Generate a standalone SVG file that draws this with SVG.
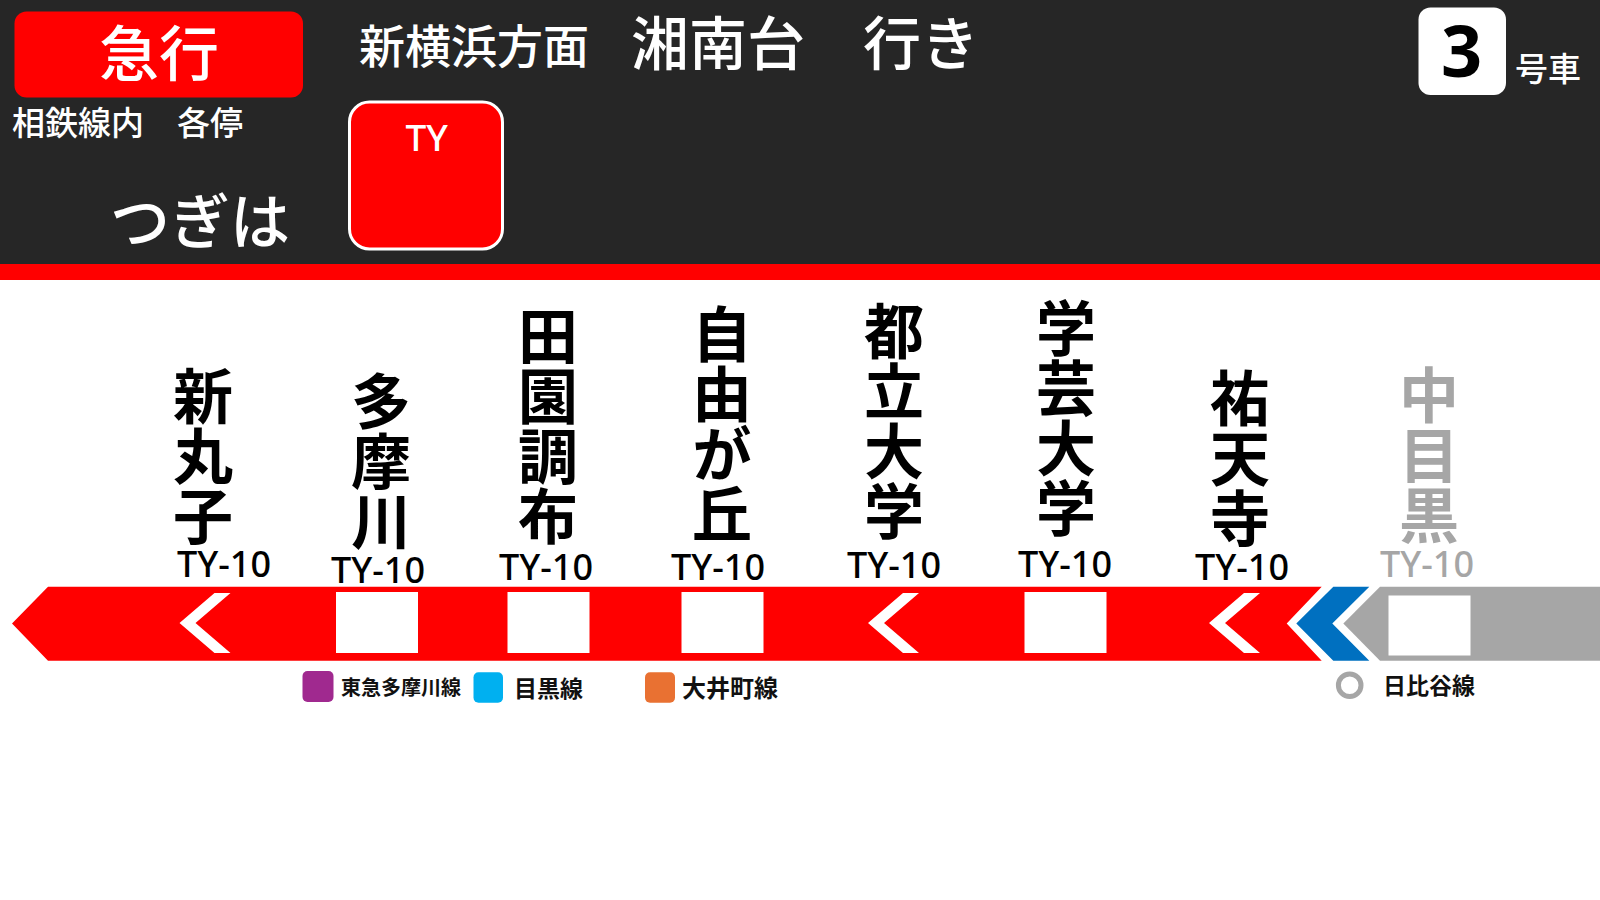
<svg xmlns="http://www.w3.org/2000/svg" xmlns:xlink="http://www.w3.org/1999/xlink" width="1600" height="900" viewBox="0 0 1600 900">
<style>
.jp{font-family:"Noto Sans CJK JP","Noto Sans",sans-serif}
.hd{fill:#ffffff;font-weight:500}
.st{font-family:"Noto Sans CJK JP","Noto Sans",sans-serif;font-size:60px;font-weight:700;fill:#000000;writing-mode:vertical-rl;text-anchor:start}
.code{font-family:"Noto Sans","Noto Sans CJK JP",sans-serif;font-size:36px;font-weight:500;fill:#000000;text-anchor:middle}
.gray{fill:#A6A6A6}
.stop{fill:#ffffff}
.chev{fill:#ffffff}
.lg{font-family:"Noto Sans CJK JP","Noto Sans",sans-serif;font-weight:700;fill:#111111}
</style>
<defs>
<polygon id="chevron" points="35,593 51,593 16,623 51,653 35,653 0,623"/>
</defs>
<rect x="0" y="0" width="1600" height="900" fill="#ffffff"/>
<g id="header">
<rect x="0" y="0" width="1600" height="264" fill="#262626"/>
<rect x="0" y="264" width="1600" height="16" fill="#FF0000"/>
</g>
<g id="type-badge">
<rect x="14.5" y="11.5" width="288.5" height="86" rx="12" fill="#FF0000"/>
<text x="159" y="76" class="jp hd" font-size="60" text-anchor="middle">急行</text>
</g>
<g id="type-note">
<text x="12" y="135" class="jp hd" font-size="33">相鉄線内　各停</text>
</g>
<g id="direction">
<text x="359" y="63" class="jp hd" font-size="46">新横浜方面</text>
<text x="631" y="65" class="jp hd" font-size="58">湘南台　行き</text>
</g>
<g id="next-label">
<text x="110" y="244" class="jp hd" font-size="60">つぎは</text>
</g>
<g id="next-station-box">
<rect x="349.5" y="102" width="153" height="147" rx="20" fill="#FF0000" stroke="#ffffff" stroke-width="3"/>
<text x="426.6" y="150.5" font-family="Noto Sans, sans-serif" font-size="37" font-weight="500" fill="#ffffff" text-anchor="middle">TY</text>
</g>
<g id="car-number">
<rect x="1418.5" y="7.5" width="87.5" height="87.5" rx="12" fill="#ffffff"/>
<text x="1461.7" y="77.3" font-family="Noto Sans, sans-serif" font-size="72" font-weight="700" fill="#000000" text-anchor="middle">3</text>
<text x="1515" y="81" class="jp hd" font-size="33">号車</text>
</g>
<g id="connectors">
<polygon points="12,623.5 48,586.7 1321.7,586.7 1286.7,623.5 1321.7,660.7 48,660.7" fill="#FF0000"/>
<polygon points="1333.3,586.7 1369.3,586.7 1332.3,623.5 1369.3,660.7 1333.3,660.7 1296.3,623.5" fill="#0070C0"/>
<polygon points="1380,586.7 1600,586.7 1600,660.7 1380,660.7 1343.3,623.5" fill="#A6A6A6"/>
</g>
<g id="st-shinmaruko">
<text class="st" x="203" y="366.2">新丸子</text>
<text class="code" x="224" y="576.5">TY-10</text>
<use xlink:href="#chevron" href="#chevron" x="179.5" class="chev"/>
</g>
<g id="st-tamagawa">
<text class="st" x="381" y="371.2">多摩川</text>
<text class="code" x="378" y="583">TY-10</text>
<rect class="stop" x="336" y="592" width="82" height="61"/>
</g>
<g id="st-denenchofu">
<text class="st" x="548" y="306.2">田園調布</text>
<text class="code" x="546" y="580">TY-10</text>
<rect class="stop" x="507.5" y="592" width="82" height="61"/>
</g>
<g id="st-jiyugaoka">
<text class="st" x="722" y="304.2">自由が丘</text>
<text class="code" x="718" y="580">TY-10</text>
<rect class="stop" x="681.5" y="592" width="82" height="61"/>
</g>
<g id="st-toritsudaigaku">
<text class="st" x="894" y="301.2">都立大学</text>
<text class="code" x="894" y="578">TY-10</text>
<use xlink:href="#chevron" href="#chevron" x="868" class="chev"/>
</g>
<g id="st-gakugeidaigaku">
<text class="st" x="1066" y="298.2">学芸大学</text>
<text class="code" x="1065" y="577">TY-10</text>
<rect class="stop" x="1024.5" y="592" width="82" height="61"/>
</g>
<g id="st-yutenji">
<text class="st" x="1240" y="368.2">祐天寺</text>
<text class="code" x="1242" y="580">TY-10</text>
<use xlink:href="#chevron" href="#chevron" x="1209" class="chev"/>
</g>
<g id="st-nakameguro">
<text class="st gray" x="1429" y="365.2">中目黒</text>
<text class="code gray" x="1427" y="577">TY-10</text>
<rect class="stop" x="1388.5" y="595.5" width="82" height="60"/>
</g>
<g id="transfer-tamagawa">
<rect x="302.5" y="671" width="31" height="31" rx="5" fill="#A0298F"/>
<text x="341" y="694.5" class="lg" font-size="20">東急多摩川線</text>
</g>
<g id="transfer-denenchofu">
<rect x="473.5" y="672.3" width="29.5" height="30.5" rx="5" fill="#00B0F0"/>
<text x="514" y="696.5" class="lg" font-size="23">目黒線</text>
</g>
<g id="transfer-jiyugaoka">
<rect x="645" y="672.3" width="30" height="30.5" rx="5" fill="#E97132"/>
<text x="682" y="696.5" class="lg" font-size="24">大井町線</text>
</g>
<g id="transfer-nakameguro">
<circle cx="1349.7" cy="685.3" r="11.3" fill="#ffffff" stroke="#A6A6A6" stroke-width="5"/>
<text x="1383" y="694" class="lg" font-size="23">日比谷線</text>
</g>
</svg>
